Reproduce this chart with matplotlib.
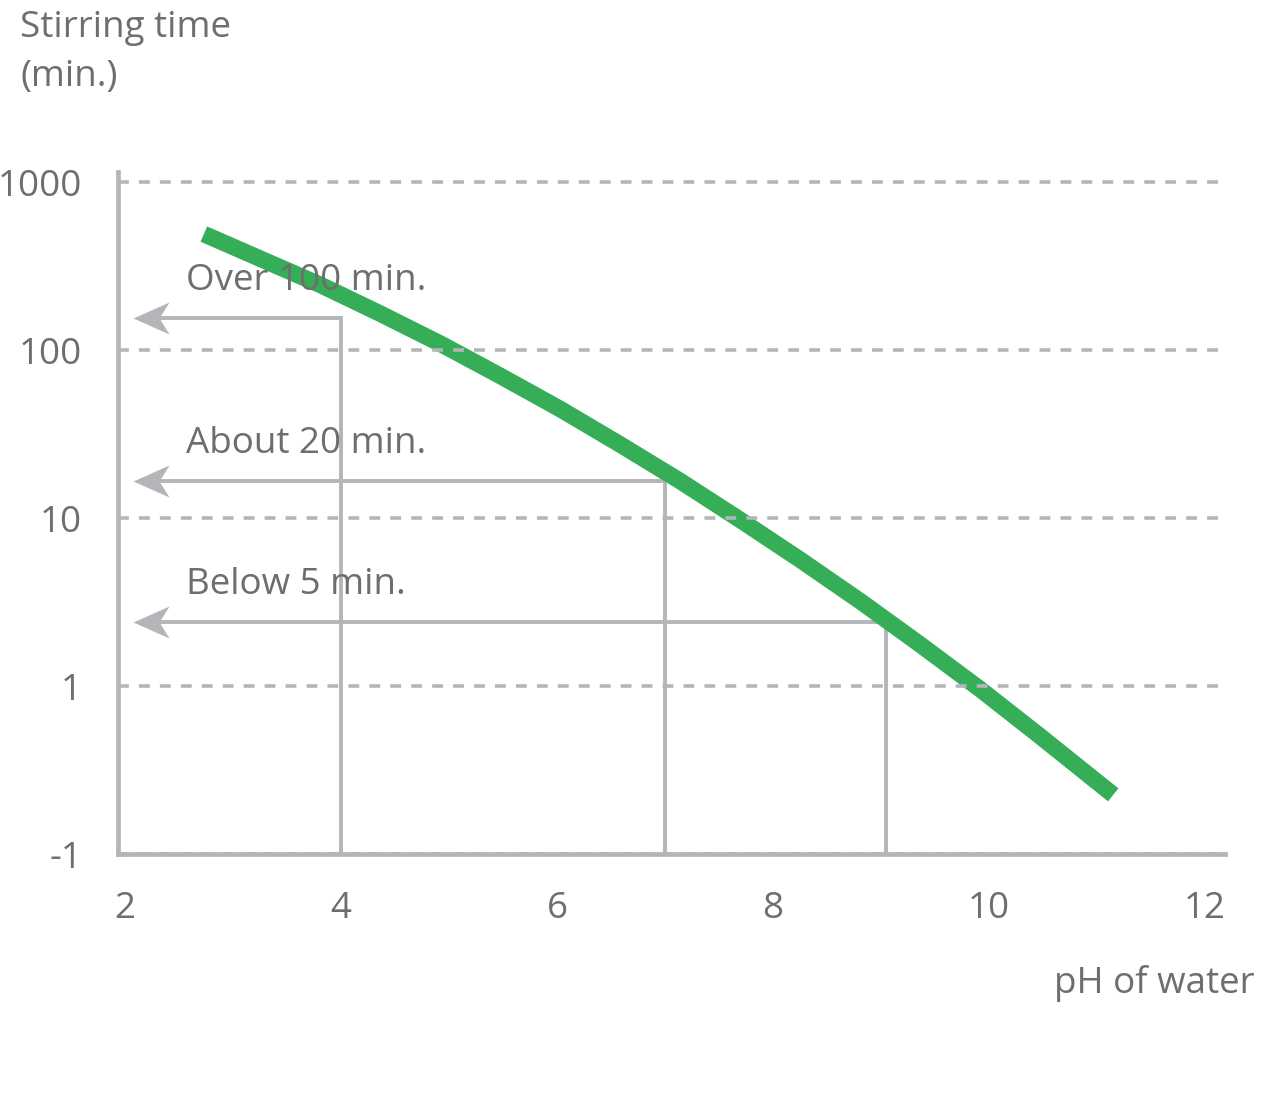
import matplotlib
matplotlib.use('Agg')
import matplotlib.pyplot as plt
from matplotlib.path import Path
from matplotlib.ticker import FixedLocator, NullLocator

plt.rcParams['font.family'] = ['Open Sans', 'DejaVu Sans']

# curve
ph_values = [2.73, 3.25, 3.81, 4.36, 4.92, 5.47, 6.03, 6.58, 7.14, 7.69,
             8.25, 8.81, 9.36, 9.92, 10.47, 11.15]
stir_minutes = [490, 350, 244, 165, 109, 70.4, 44.5, 27.5, 16.6, 9.8,
                5.65, 3.19, 1.77, 0.955, 0.504, 0.225]

# reference arrows: pH where the drop line sits, and the time it points at
ref_ph = [4.0, 7.0, 9.05]
ref_minutes = [155, 16.6, 2.4]
ref_labels = ['Over 100 min.', 'About 20 min.', 'Below 5 min.']

x_ticks = [2, 4, 6, 8, 10, 12]
y_ticks = [0.1, 1, 10, 100, 1000]
y_tick_labels = ['-1', '1', '10', '100', '1000']

GRAY_LINE = '#b4b5b9'
GRAY_TEXT = '#6e6e6e'
GREEN = '#36ad57'
FS = 26.5

fig = plt.figure(figsize=(12.8, 11.04), dpi=100)
ax = fig.add_axes([118 / 1280, 250 / 1104, 1107 / 1280, 682 / 1104])

ax.set_yscale('log')
ax.set_xlim(1.935, 12.185)
ax.set_ylim(0.1, 1147)

# arrow head with a notch, tip at the origin
head = Path([(0, 0), (36, 16), (26, 0), (36, -16), (0, 0)],
            [Path.MOVETO, Path.LINETO, Path.LINETO, Path.LINETO, Path.CLOSEPOLY])
tip_x = 2.07

for x, y, label in zip(ref_ph, ref_minutes, ref_labels):
    ax.plot([tip_x + 0.15, x, x], [y, y, 0.1], color=GRAY_LINE, lw=2.8,
            solid_joinstyle='miter', zorder=2)
    ax.plot([tip_x], [y], marker=head, markersize=52, color=GRAY_LINE,
            markeredgewidth=0, zorder=2)
    ax.annotate(label, xy=(2.565, y), xytext=(0, 20), textcoords='offset points',
                va='baseline', ha='left', fontsize=FS, color=GRAY_TEXT, zorder=3)

ax.plot(ph_values, stir_minutes, color=GREEN, lw=12, solid_capstyle='butt', zorder=2.2)

ax.set_axisbelow(False)
ax.yaxis.set_major_locator(FixedLocator(y_ticks))
ax.yaxis.set_minor_locator(NullLocator())
ax.set_yticklabels(y_tick_labels)
ax.set_xticks(x_ticks)
ax.grid(axis='y', color=GRAY_LINE, lw=2.6, linestyle=(0, (3.0, 2.8)))

for side in ['top', 'right']:
    ax.spines[side].set_visible(False)
for side in ['left', 'bottom']:
    ax.spines[side].set_color(GRAY_LINE)
    ax.spines[side].set_linewidth(3.4)

ax.tick_params(axis='y', length=0, pad=26, labelsize=FS, labelcolor=GRAY_TEXT)
ax.tick_params(axis='x', length=0, pad=27, labelsize=FS, labelcolor=GRAY_TEXT)

fig.text(20 / 1280, 1 - 10 / 1104, 'Stirring time\n(min.)', ha='left', va='top',
         fontsize=FS, color=GRAY_TEXT, linespacing=1.5)
fig.text(1255 / 1280, 1 - 993 / 1104, 'pH of water', ha='right', va='baseline',
         fontsize=FS, color=GRAY_TEXT)

fig.savefig('out.png', dpi=100, facecolor='white')
